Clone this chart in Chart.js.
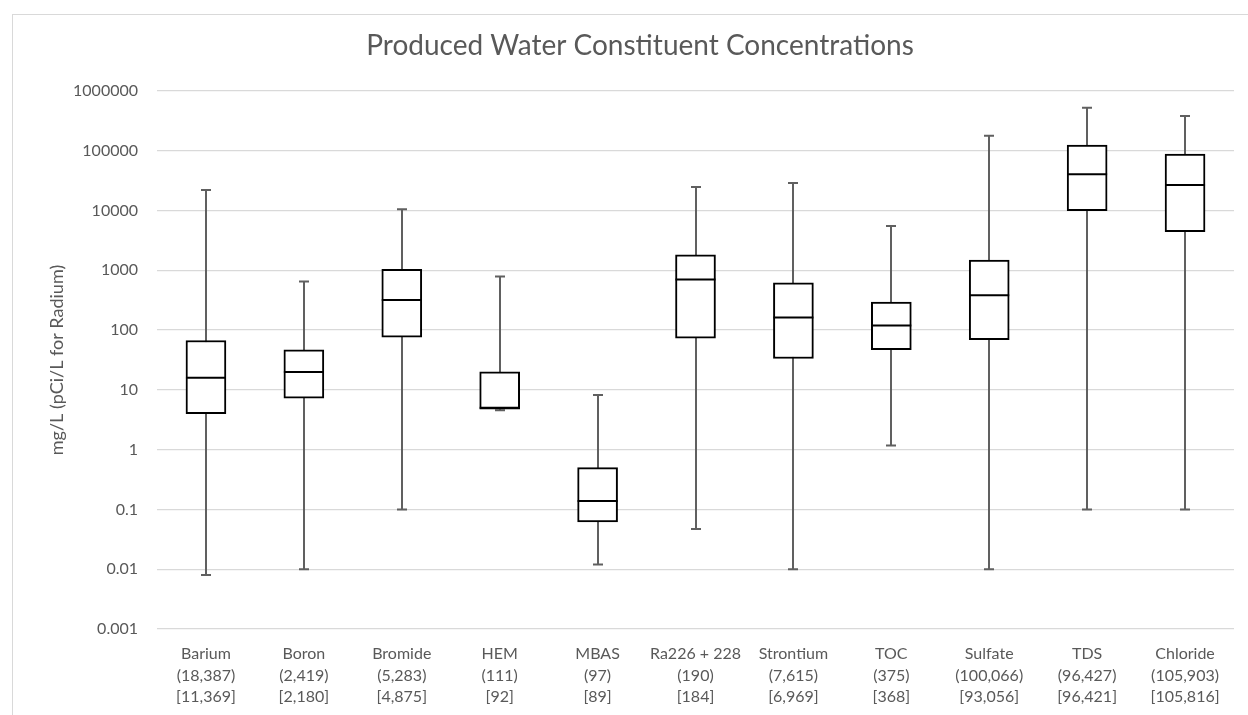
<!DOCTYPE html>
<html><head><meta charset="utf-8">
<script src="https://cdn.jsdelivr.net/npm/chart.js@4.4.1/dist/chart.umd.min.js"></script>
<style>
html,body{margin:0;padding:0;background:#fff;overflow:hidden;}
#wrap{position:relative;width:1248px;height:715px;}
#frame{position:absolute;left:12px;top:14px;width:1300px;height:800px;border:1px solid #d9d9d9;box-sizing:border-box;pointer-events:none;}
canvas{position:absolute;left:0;top:0;}
</style></head><body>
<div id="wrap"><canvas id="c" width="1248" height="715"></canvas><div id="frame"></div></div>
<script>
const categories = ["Barium","Boron","Bromide","HEM","MBAS","Ra226 + 228","Strontium","TOC","Sulfate","TDS","Chloride"];
const totalCounts = ["18,387","2,419","5,283","111","97","190","7,615","375","100,066","96,427","105,903"];
const detectCounts = ["11,369","2,180","4,875","92","89","184","6,969","368","93,056","96,421","105,816"];
const minValues = [0.008, 0.01, 0.1, 4.55, 0.012, 0.047, 0.01, 1.17, 0.01, 0.1, 0.1];
const q1Values = [4.0, 7.3, 76, 4.75, 0.062, 73, 33.5, 47, 69, 10000, 4450];
const medianValues = [16, 20, 320, 5.05, 0.138, 700, 162, 119, 384, 40400, 26800];
const q3Values = [67, 47, 1040, 20, 0.5, 1810, 620, 293, 1490, 125000, 88400];
const maxValues = [22000, 650, 10500, 790, 8.2, 24800, 29000, 5500, 179000, 526000, 382000];
const yTickValues = [0.001, 0.01, 0.1, 1, 10, 100, 1000, 10000, 100000, 1000000];
const yTickLabels = ["0.001","0.01","0.1","1","10","100","1000","10000","100000","1000000"];

const TEXT = '#595959';
const FONT = 'Lato, "Open Sans", sans-serif';

const boxPlotPlugin = {
  id: 'boxplot',
  beforeDatasetsDraw(chart) {
    const ctx = chart.ctx, y = chart.scales.y, meta = chart.getDatasetMeta(0);
    ctx.save();
    ctx.strokeStyle = '#606060';
    ctx.lineWidth = 2;
    meta.data.forEach((bar, i) => {
      const x = Math.round(bar.x);
      const yMin = y.getPixelForValue(minValues[i]);
      const yMax = y.getPixelForValue(maxValues[i]);
      ctx.beginPath();
      ctx.moveTo(x, yMin); ctx.lineTo(x, yMax);
      ctx.moveTo(x - 5, yMin); ctx.lineTo(x + 5, yMin);
      ctx.moveTo(x - 5, yMax); ctx.lineTo(x + 5, yMax);
      ctx.stroke();
    });
    ctx.restore();
  },
  afterDatasetsDraw(chart) {
    const ctx = chart.ctx, y = chart.scales.y, meta = chart.getDatasetMeta(0);
    ctx.save();
    ctx.strokeStyle = '#000';
    ctx.lineWidth = 2;
    meta.data.forEach((bar, i) => {
      const half = bar.width / 2;
      const ym = y.getPixelForValue(medianValues[i]);
      ctx.beginPath();
      ctx.moveTo(bar.x - half, ym); ctx.lineTo(bar.x + half, ym);
      ctx.stroke();
    });
    ctx.restore();
  }
};

new Chart(document.getElementById('c'), {
  type: 'bar',
  data: {
    labels: categories.map((c, i) => [c, '(' + totalCounts[i] + ')', '[' + detectCounts[i] + ']']),
    datasets: [{
      data: categories.map((c, i) => [q1Values[i], q3Values[i]]),
      backgroundColor: '#ffffff',
      borderColor: '#000000',
      borderWidth: 2,
      borderSkipped: false,
      barThickness: 40
    }]
  },
  options: {
    responsive: false,
    animation: false,
    events: [],
    layout: { padding: { left: 46, right: 14, top: 29, bottom: 0 } },
    plugins: {
      legend: { display: false },
      tooltip: { enabled: false },
      title: {
        display: true,
        text: 'Produced Water Constituent Concentrations',
        color: TEXT,
        font: { family: FONT, size: 28, weight: 'normal', lineHeight: 1.2 },
        padding: { top: 0, bottom: 28.4 }
      }
    },
    scales: {
      x: {
        grid: { display: false },
        border: { display: false },
        ticks: { color: TEXT, font: { family: FONT, size: 16, lineHeight: 1.35 }, padding: 6, maxRotation: 0, autoSkip: false },
        afterFit(s) { s.height = 86; }
      },
      y: {
        type: 'logarithmic',
        min: 0.001,
        max: 1000000,
        grid: { color: '#d9d9d9', lineWidth: 1.3, drawTicks: false },
        border: { display: false },
        ticks: {
          color: TEXT,
          font: { family: FONT, size: 16 },
          padding: 19,
          callback: (v, i) => yTickLabels[i]
        },
        afterBuildTicks(s) { s.ticks = yTickValues.map(v => ({ value: v })); },
        afterFit(s) { s.width = 111; },
        title: {
          display: true,
          text: 'mg/L (pCi/L for Radium)',
          color: TEXT,
          font: { family: FONT, size: 18 },
          padding: { top: 0, bottom: 0 }
        }
      }
    }
  },
  plugins: [boxPlotPlugin]
});
</script>
</body></html>
